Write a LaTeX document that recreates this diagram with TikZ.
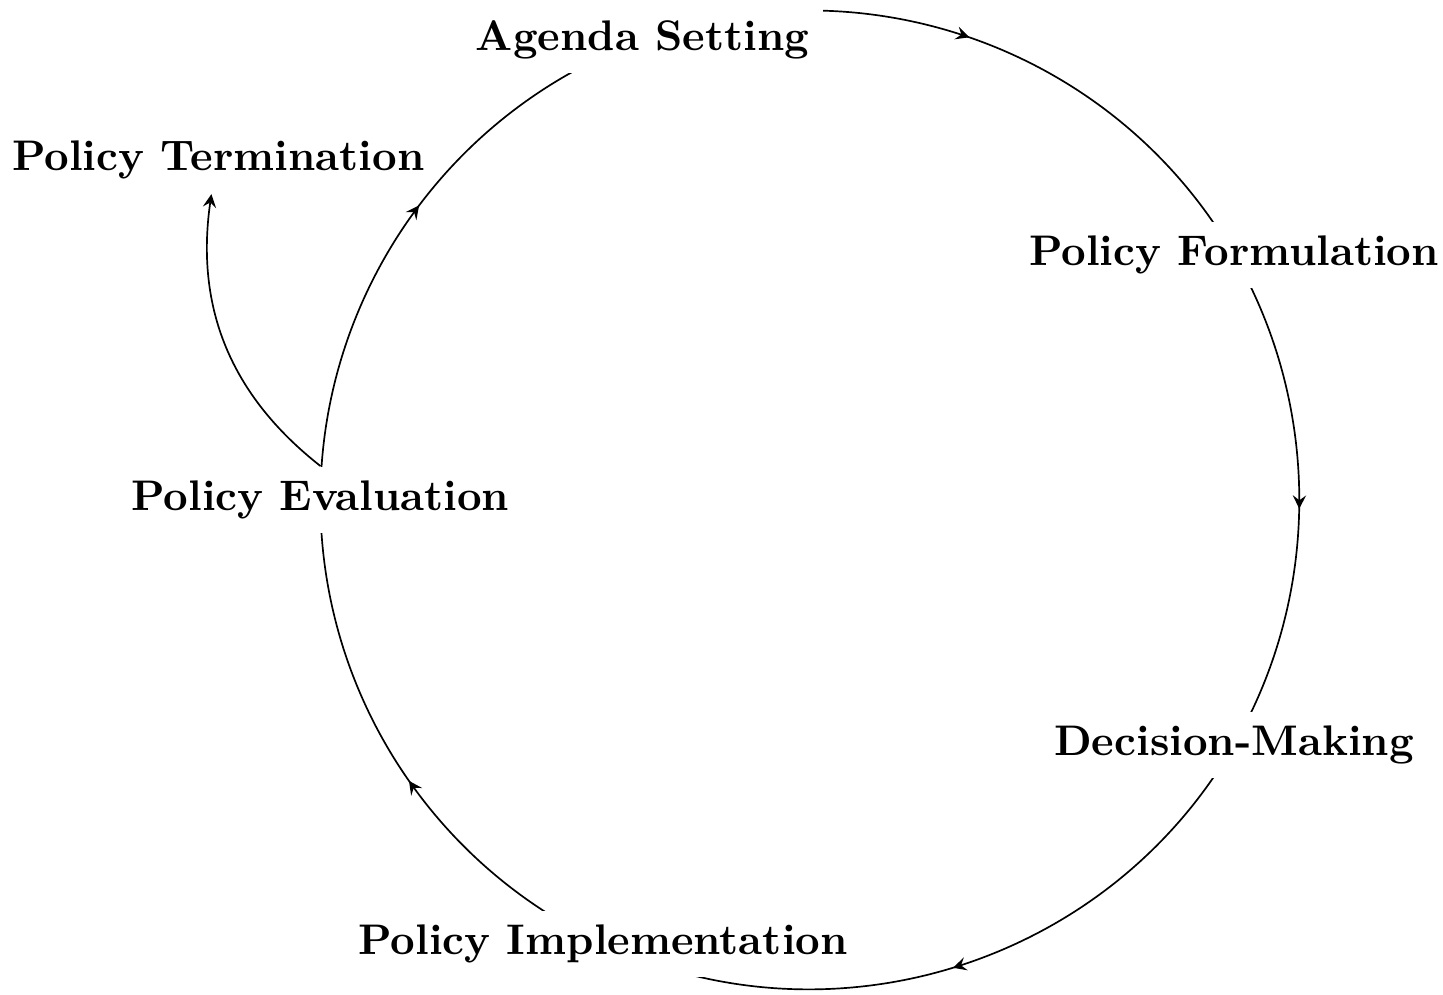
\documentclass[tikz,border=0pt]{standalone}
\usetikzlibrary{decorations.markings}
\usetikzlibrary{backgrounds}
\newcommand{\cycleradius}{4.08cm}
\tikzset{stage/.style={font=\fontsize{10.15pt}{12pt}\selectfont\bfseries, fill=white},
	midarrow/.style={postaction={decorate},
		decoration={markings, mark=at position #1 with {\arrow{stealth}}}},
	midarrow/.default=0.5}

\begin{document}
\begin{tikzpicture}
	\useasboundingbox (-6.75,-4.117) rectangle (5.275,4.167);

	% stages of the cycle
	\node[stage] (agenda) at (110:\cycleradius) {Agenda Setting};
	\node[stage] (formulation) at (30:\cycleradius) {Policy Formulation};
	\node[stage] (decision) at (-30:\cycleradius) {Decision-Making};
	\node[stage] (implementation) at (245:\cycleradius) {Policy Implementation};
	\node[stage] (evaluation) at (180:\cycleradius) {Policy Evaluation};
	\node[stage, fill=none] (termination) at (-4.93,2.833) {Policy Termination};

	% the cycle, behind the labels
	\begin{scope}[on background layer]
		\draw[midarrow=0.4875] (agenda.center) to[bend left=40, looseness=0.964] (formulation.center);
		\draw[midarrow=0.517] (formulation.center) to[bend left=30, looseness=0.912] (decision.center);
		\draw[midarrow=0.506] (decision.center) to[bend left=42.5, looseness=0.98] (implementation.center);
		\draw[midarrow=0.4615] (implementation.center) to[bend left=32.5, looseness=0.924] (evaluation.center);
		\draw[midarrow=0.5286] (evaluation.center) to[bend left=35, looseness=0.936] (agenda.center);
	\end{scope}

	\draw[-stealth] (evaluation.north) to[bend left] (termination);
\end{tikzpicture}
\end{document}
